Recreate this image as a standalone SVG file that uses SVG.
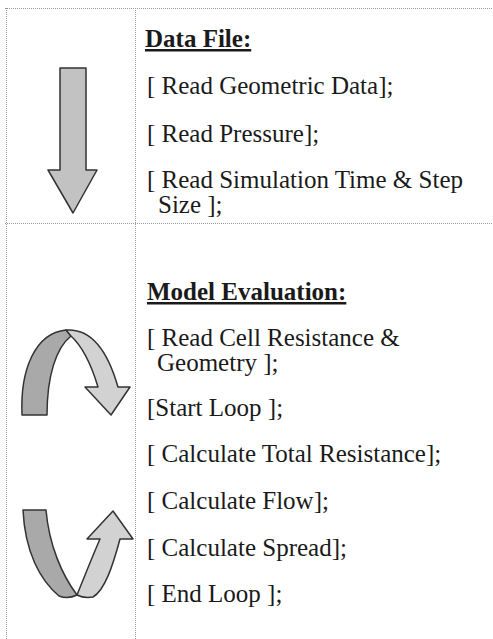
<svg xmlns="http://www.w3.org/2000/svg" width="493" height="639" viewBox="0 0 493 639">
<style>
.grid{stroke:#9a9a9a;stroke-width:1;stroke-dasharray:1 1;fill:none}
.t{font-family:"Liberation Serif","Times New Roman",serif;font-size:25px;fill:#1a1a1a}
.h{font-weight:bold;text-decoration:underline}
.arr{stroke:#333;stroke-width:1.5;stroke-linejoin:round}
.dk{fill:#a9a9a9}
.lt{fill:#d2d2d2}
.md{fill:#c2c2c2}
</style>
<rect width="493" height="639" fill="#fff"/>
<g id="grid">
<line class="grid" x1="5" y1="8.5" x2="493" y2="8.5"/>
<line class="grid" x1="5" y1="223.5" x2="493" y2="223.5"/>
<line class="grid" x1="6.5" y1="8" x2="6.5" y2="639"/>
<line class="grid" x1="135.5" y1="8" x2="135.5" y2="639"/>
</g>
<g id="connectors">
<g id="arrow-down">
<path class="arr md" d="M60,68 L86,68 L86,170 L97,170 L73,213 L48,170 L60,170 Z"/>
</g>
<g id="loop-arrow-top">
<path class="arr dk" d="M22,415 C20,370 35,333 66,330 L71,336 C56,348 47,376 47,415 Z"/>
<path class="arr lt" d="M66,330 C92,328 108,352 118,387 L130,387 L111,415 L85,387 L98,387 C92,367 83,347 71,336 Z"/>
</g>
<g id="loop-arrow-bottom">
<path class="arr dk" d="M23,510 L46,510 C49,545 62,575 77,595 C71,598 64,598 59,596 C40,580 25,552 23,510 Z"/>
<path class="arr lt" d="M77,595 C85,575 93,555 100,539 L87,539 L113,511 L133,539 L120,539 C113,565 105,590 93,597 C87,598 81,597 77,595 Z"/>
</g>
</g>
<g id="data-file">
<text class="t h" x="145" y="47">Data File:</text>
<text class="t" x="147" y="94">[ Read Geometric Data];</text>
<text class="t" x="147" y="142">[ Read Pressure];</text>
<text class="t" x="147" y="188">[ Read Simulation Time &amp; Step</text>
<text class="t" x="158" y="213">Size ];</text>
</g>
<g id="model-evaluation">
<text class="t h" x="147" y="300">Model Evaluation:</text>
<text class="t" x="147" y="346">[ Read Cell Resistance &amp;</text>
<text class="t" x="157" y="371">Geometry ];</text>
<text class="t" x="147" y="416">[Start Loop ];</text>
<text class="t" x="147" y="462">[ Calculate Total Resistance];</text>
<text class="t" x="147" y="509">[ Calculate Flow];</text>
<text class="t" x="147" y="556">[ Calculate Spread];</text>
<text class="t" x="147" y="602">[ End Loop ];</text>
</g>
</svg>
